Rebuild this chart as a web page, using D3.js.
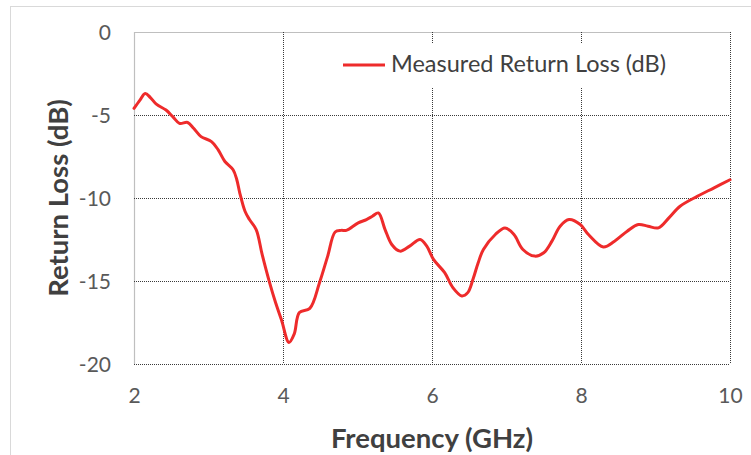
<!DOCTYPE html>
<html>
<head>
<meta charset="utf-8">
<script src="https://cdn.jsdelivr.net/npm/d3@7"></script>
<style>
  html, body { margin: 0; padding: 0; background: #fff; }
  svg { display: block; }
  text { font-family: Lato, "Open Sans", sans-serif; }
</style>
</head>
<body>
<svg id="chart" width="751" height="455"></svg>
<script>
// Measured return loss of the antenna, 2–10 GHz
const frequencyGHz = [
  2.00, 2.08, 2.15, 2.22, 2.30, 2.43, 2.52, 2.61, 2.72, 2.80,
  2.90, 3.04, 3.13, 3.22, 3.33, 3.38, 3.42, 3.49, 3.55, 3.64,
  3.72, 3.82, 3.90, 3.98, 4.08, 4.15, 4.22, 4.36, 4.49, 4.60,
  4.70, 4.78, 4.85, 5.01, 5.12, 5.20, 5.28, 5.37, 5.46, 5.57,
  5.70, 5.84, 5.93, 6.02, 6.17, 6.28, 6.40, 6.48, 6.55, 6.62,
  6.69, 6.85, 6.98, 7.10, 7.22, 7.38, 7.50, 7.61, 7.72, 7.84,
  7.99, 8.10, 8.30, 8.45, 8.62, 8.77, 8.90, 9.04, 9.18, 9.33,
  9.56, 9.78, 10.00
];
const returnLossDB = [
  -4.6, -4.1, -3.7, -3.95, -4.35, -4.7, -5.1, -5.5, -5.45, -5.8,
  -6.3, -6.6, -7.1, -7.8, -8.3, -8.9, -9.7, -10.8, -11.3, -11.9,
  -13.4, -15.1, -16.3, -17.35, -18.7, -18.2, -16.9, -16.65, -15.1, -13.5,
  -12.05, -11.95, -11.95, -11.5, -11.3, -11.1, -10.9, -11.9, -12.8, -13.2,
  -12.9, -12.5, -12.9, -13.7, -14.5, -15.4, -15.9, -15.7, -14.9, -13.9,
  -13.1, -12.2, -11.8, -12.2, -13.1, -13.5, -13.3, -12.6, -11.7, -11.3,
  -11.6, -12.2, -12.95, -12.6, -12.0, -11.6, -11.7, -11.8, -11.2, -10.5,
  -9.9, -9.4, -8.9
];
const xTicks = [2, 4, 6, 8, 10];
const yTicks = [0, -5, -10, -15, -20];
const seriesName = "Measured Return Loss (dB)";
const xTitle = "Frequency (GHz)";
const yTitle = "Return Loss (dB)";

const svg = d3.select("#chart");
const plot = { left: 134, right: 730, top: 32, bottom: 364 };

const x = d3.scaleLinear().domain([2, 10]).range([plot.left, plot.right]);
const y = d3.scaleLinear().domain([-20, 0]).range([plot.bottom, plot.top]);

// chart frame
svg.append("rect")
  .attr("x", 10.5).attr("y", 6.5)
  .attr("width", 800).attr("height", 500)
  .attr("fill", "none").attr("stroke", "#d9d9d9").attr("stroke-width", 1);

// plot-area border (left and top solid)
svg.append("path")
  .attr("d", `M${plot.left + 0.5},${plot.bottom}V${plot.top + 0.5}H${plot.right}`)
  .attr("fill", "none").attr("stroke", "#bfbfbf").attr("stroke-width", 1.2);

// dotted gridlines
const grid = svg.append("g").attr("stroke", "#3a3a3a").attr("stroke-width", 1)
  .attr("stroke-dasharray", "1,1");
grid.selectAll("line.h").data(yTicks.filter(d => d !== 0)).join("line")
  .attr("x1", plot.left).attr("x2", plot.right)
  .attr("y1", d => Math.round(y(d)) + 0.5).attr("y2", d => Math.round(y(d)) + 0.5);
grid.selectAll("line.v").data(xTicks.filter(d => d !== 2)).join("line")
  .attr("y1", plot.top).attr("y2", plot.bottom)
  .attr("x1", d => Math.round(x(d)) + 0.5).attr("x2", d => Math.round(x(d)) + 0.5);

// axes (labels only, plain hyphen for negatives)
const yAxis = d3.axisLeft(y).tickValues(yTicks).tickSize(0).tickPadding(23)
  .tickFormat(d => String(d));
const gy = svg.append("g").attr("transform", `translate(${plot.left},0)`).call(yAxis);
gy.select(".domain").remove();
gy.selectAll("text").attr("fill", "#595959").attr("font-size", 21)
  .attr("font-family", "Lato, sans-serif").attr("dy", "0.38em");

const xAxis = d3.axisBottom(x).tickValues(xTicks).tickSize(0).tickPadding(24)
  .tickFormat(d => String(d));
const gx = svg.append("g").attr("transform", `translate(0,${plot.bottom})`).call(xAxis);
gx.select(".domain").remove();
gx.selectAll("text").attr("fill", "#595959").attr("font-size", 21)
  .attr("font-family", "Lato, sans-serif");

// axis titles
svg.append("text")
  .attr("x", (plot.left + plot.right) / 2).attr("y", 448)
  .attr("text-anchor", "middle").attr("font-weight", "bold")
  .attr("font-size", 27.5).attr("fill", "#404040").text(xTitle);
svg.append("text")
  .attr("transform", `translate(68,${(plot.top + plot.bottom) / 2}) rotate(-90)`)
  .attr("text-anchor", "middle").attr("font-weight", "bold")
  .attr("font-size", 27.5).attr("fill", "#404040").text(yTitle);

// legend
const legend = svg.append("g");
legend.append("rect").attr("x", 336).attr("y", 44).attr("width", 344).attr("height", 43)
  .attr("fill", "#fff");
legend.append("line").attr("x1", 343).attr("x2", 385).attr("y1", 65).attr("y2", 65)
  .attr("stroke", "#ee2b2b").attr("stroke-width", 3);
legend.append("text").attr("x", 391).attr("y", 72)
  .attr("font-size", 23.5).attr("fill", "#404040").text(seriesName);

// measured curve
const line = d3.line()
  .x((d, i) => x(frequencyGHz[i]))
  .y(d => y(d))
  .curve(d3.curveCatmullRom.alpha(0.5));
svg.append("path")
  .datum(returnLossDB)
  .attr("d", line)
  .attr("fill", "none")
  .attr("stroke", "#ee2b2b")
  .attr("stroke-width", 3)
  .attr("stroke-linejoin", "round")
  .attr("stroke-linecap", "round");
</script>
</body>
</html>
